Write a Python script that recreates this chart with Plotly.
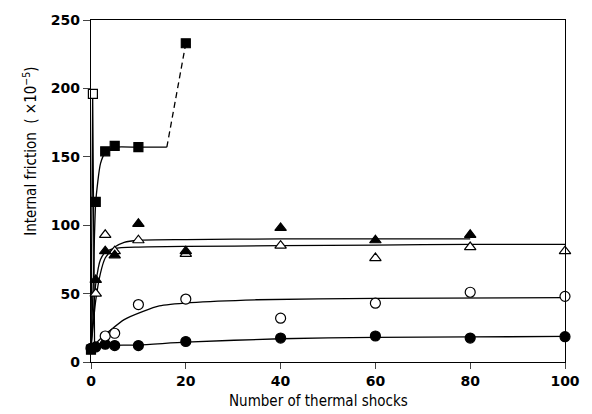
import plotly.graph_objects as go

# ---- data ----
fsq_x = [0, 1, 3, 5, 10, 20]
fsq_y = [9, 117, 154, 158, 157, 233]
osq_x = [0.4]
osq_y = [196]
ftri_x = [1, 3, 5, 10, 20, 40, 60, 80]
ftri_y = [60, 81, 78, 101, 81, 98, 89, 93]
otri_x = [1, 3, 5, 10, 20, 40, 60, 80, 100]
otri_y = [50, 93, 81, 89, 79, 85, 76, 84, 81]
ocir_x = [3, 5, 10, 20, 40, 60, 80, 100]
ocir_y = [19, 21, 42, 46, 32, 43, 51, 48]
fcir_x = [0, 1, 3, 5, 10, 20, 40, 60, 80, 100]
fcir_y = [10, 11, 13, 12, 12, 15, 17.5, 19, 17.5, 18.5]

# fitted curves
c_fsq_x = [0, 0.5, 1, 2, 3, 5, 10, 16]
c_fsq_y = [10, 60, 117, 145, 153, 157, 157, 157]
c_fsq_dash_x = [16, 20]
c_fsq_dash_y = [157, 233]
c_osq_x = [0, 0.35, 0.75]
c_osq_y = [10, 196, 12]
c_ftri_x = [0, 1, 2, 3, 5, 7, 10, 20, 40, 60, 80]
c_ftri_y = [10, 45, 65, 76, 84, 87.5, 89, 89.5, 90, 90, 90]
c_otri_x = [0, 0.5, 1, 2, 3, 5, 10, 20, 40, 60, 80, 100]
c_otri_y = [10, 35, 57, 75, 80, 83, 84, 84.5, 85, 85.5, 86, 86]
c_ocir_x = [0, 2, 4, 7, 11, 14.4, 21, 35, 60, 100]
c_ocir_y = [10, 17, 23, 31, 37, 41, 43.4, 45.5, 46.5, 47]
c_fcir_x = [0, 1, 3, 10, 20, 40, 60, 80, 100]
c_fcir_y = [9, 11, 12, 12.5, 14.5, 17, 18, 18.3, 18.7]

x_ticks = [0, 20, 40, 60, 80, 100]
y_ticks = [0, 50, 100, 150, 200, 250]

fig = go.Figure()

def curve(x, y, dash="solid", shape="spline"):
    fig.add_trace(go.Scatter(x=x, y=y, mode="lines",
                             line=dict(color="black", width=1.3, dash=dash, shape=shape, smoothing=0.6),
                             hoverinfo="skip", cliponaxis=False))

curve(c_fcir_x, c_fcir_y)
curve(c_ocir_x, c_ocir_y)
curve(c_otri_x, c_otri_y)
curve(c_ftri_x, c_ftri_y)
curve(c_fsq_x, c_fsq_y)
curve(c_fsq_dash_x, c_fsq_dash_y, dash="6px,4px", shape="linear")
curve(c_osq_x, c_osq_y, shape="linear")

def pts(x, y, symbol, size, fill):
    fig.add_trace(go.Scatter(x=x, y=y, mode="markers", cliponaxis=False,
                             marker=dict(symbol=symbol, size=size, color=fill,
                                         line=dict(color="black", width=1.2))))

pts(fcir_x, fcir_y, "circle", 10, "black")
pts(ocir_x, ocir_y, "circle", 10, "white")
pts(otri_x, otri_y, "triangle-up", 10, "white")
pts(ftri_x, ftri_y, "triangle-up", 10, "black")
pts(fsq_x, fsq_y, "square", 9, "black")
pts(osq_x, osq_y, "square", 9, "white")

tickfont = dict(family="DejaVu Sans", size=14, color="black", weight="bold")
fig.update_layout(
    width=592, height=414,
    margin=dict(l=91, r=22, t=15, b=52),
    paper_bgcolor="white", plot_bgcolor="white",
    showlegend=False,
    xaxis=dict(range=[0, 100], tickvals=x_ticks, ticks="outside", ticklen=6, tickwidth=1.2,
               showline=True, linecolor="black", linewidth=1.3, mirror=True,
               showgrid=False, zeroline=False, tickfont=tickfont),
    yaxis=dict(range=[0, 250], tickvals=y_ticks, ticks="outside", ticklen=7, tickwidth=1.2,
               showline=True, linecolor="black", linewidth=1.3, mirror=True,
               showgrid=False, zeroline=False, tickfont=tickfont),
    annotations=[
        dict(text="Number of thermal shocks", xref="paper", yref="paper", x=0.48, y=-0.115,
             xanchor="center", yanchor="middle", showarrow=False,
             font=dict(family="DejaVu Sans Condensed", size=15, color="black")),
        dict(text="Internal friction  ( ×10<sup>−5</sup>)", xref="paper", yref="paper", x=-0.129, y=0.617,
             xanchor="center", yanchor="middle", showarrow=False, textangle=-90,
             font=dict(family="DejaVu Sans Condensed", size=15, color="black")),
    ],
)

fig.write_html("out.html")
